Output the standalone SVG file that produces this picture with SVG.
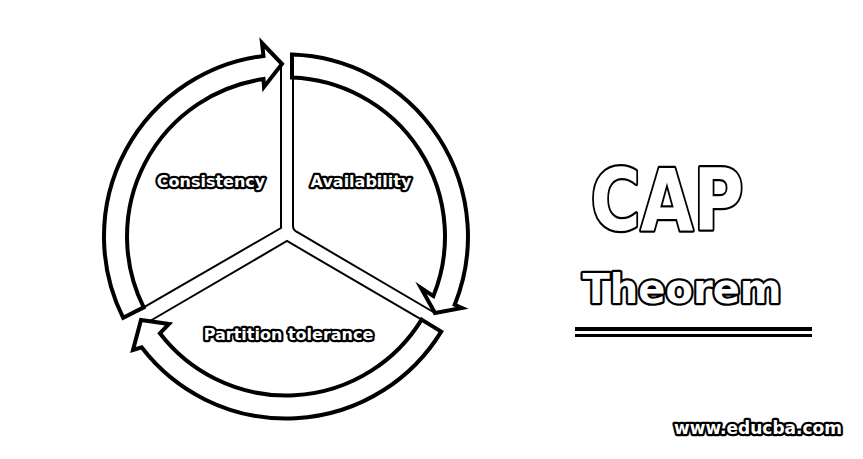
<svg xmlns="http://www.w3.org/2000/svg" width="863" height="459" viewBox="0 0 863 459">
<style>
.ring{fill:#fff;stroke:#000;stroke-width:4;stroke-linejoin:miter;stroke-miterlimit:8}
.div{fill:none;stroke:#000;stroke-width:2}
.lbl{font-family:"DejaVu Sans","Liberation Sans",Arial,sans-serif;font-weight:bold;fill:#fff;stroke:#000;stroke-width:4.5;paint-order:stroke;stroke-linejoin:round;text-anchor:middle}
</style>
<rect width="863" height="459" fill="#fff"/>
<g id="connectors">
<path class="div" d="M281 64 L281 228 L143.7 307.4" stroke-width="1.5"/>
<path class="div" d="M293 77 L293 226 Q293 230 297 232 L435 313"/>
<path class="div" d="M150 321 L287 241 L421.6 319.6"/>
</g>
<g id="consistency">
<path class="ring" d="M143.7 307.4 L123.1 317.7 A182 182 0 0 1 263.5 55.9 L262 43 L282 64 L264 87 L263.5 79.1 A159 159 0 0 0 143.7 307.4 Z"/>
<text class="lbl" x="211" y="187" font-size="16">Consistency</text>
</g>
<g id="availability">
<path class="ring" d="M292 54.6 A182 182 0 0 1 454.7 304.7 L462 308 L435 313 L421 288 L433.4 296.1 A159 159 0 0 0 292 77.6 Z"/>
<text class="lbl" x="361" y="187" font-size="16">Availability</text>
</g>
<g id="partition">
<path class="ring" d="M421.6 319.6 L441.2 331.6 A182 182 0 0 1 141.6 347.3 L133 350 L141 320 L169 324 L159.9 333.3 A159 159 0 0 0 421.6 319.6 Z"/>
<text class="lbl" x="288.5" y="340" font-size="16">Partition tolerance</text>
</g>
<g id="title">
<text class="lbl" x="667" y="230" font-size="85" stroke-width="6" textLength="153" lengthAdjust="spacingAndGlyphs">CAP</text>
<text class="lbl" x="682" y="303" font-size="40" stroke-width="6">Theorem</text>
<rect x="575" y="327" width="237" height="4" fill="#000"/>
<rect x="575" y="334" width="237" height="3" fill="#000"/>
</g>
<g id="watermark">
<text class="lbl" x="758" y="434" font-size="17">www.educba.com</text>
</g>
</svg>
